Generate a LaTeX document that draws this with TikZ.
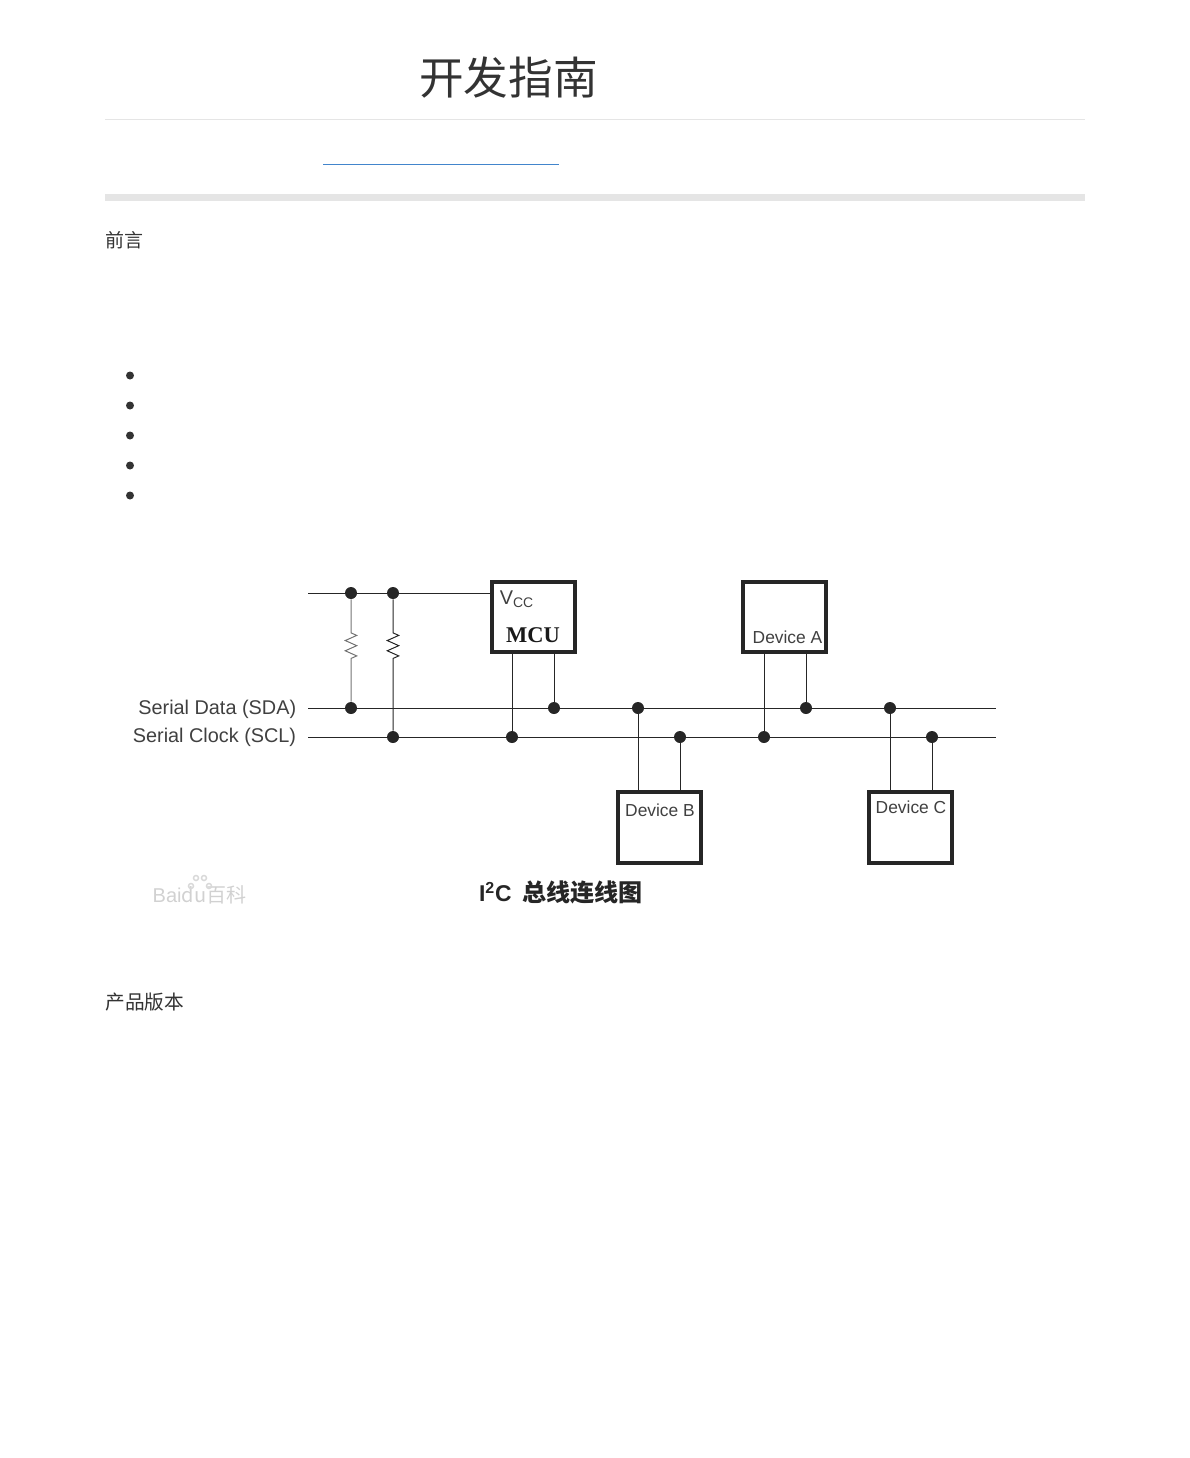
\documentclass[tikz,border=0pt]{standalone}
\usepackage{fontspec}
\setmainfont{Liberation Sans}
\newfontfamily\cjk{Noto Sans CJK SC}
\newfontfamily\serifbold{Liberation Serif}
\definecolor{inkGray}{RGB}{51,51,51}
\definecolor{linkBlue}{RGB}{66,133,204}
\definecolor{ruleGray}{RGB}{229,229,229}
\usetikzlibrary{positioning,calc,decorations.pathmorphing}

\begin{document}
\begin{tikzpicture}[x=0.02cm, y=-0.02cm,
        chip/.style={draw=black!85, line width=0.08cm, minimum width=1.665cm,
          minimum height=1.41cm, inner sep=0pt},
        dot/.style={circle, fill=black!85, inner sep=0pt, minimum size=0.24cm},
        bullet/.style={circle, fill=black!80, inner sep=0pt, minimum size=0.16cm},
        wire/.style={draw=black!85, line width=0.02cm},
        res/.style={wire, decorate, decoration={zigzag, amplitude=0.115cm,
          segment length=0.205cm, pre length=0.67cm, post length=#1}},
        lbl/.style={font=\fontsize{11.3}{14}\selectfont, text=black!75, inner sep=0pt},
        devlbl/.style={font=\fontsize{9.9}{14}\selectfont, text=black!75, inner sep=0pt},
        body/.style={font=\cjk\fontsize{11.2}{14}\selectfont, text=inkGray, inner sep=0pt, anchor=west},
        paw/.style={draw=black!15, line width=0.03cm}
      ]
        \useasboundingbox (0,0) rectangle (1190,1458);

        % Page head
        \node[font=\cjk\fontsize{25.4}{30}\selectfont, text=inkGray, inner sep=0pt] (title) at (508.5,78)
          {开发指南};
        \draw[ruleGray, line width=0.02cm] (105,119.5) -- (1085,119.5);
        \draw[linkBlue, line width=0.02cm] (323,164) -- (559,164);
        \fill[ruleGray] (105,194) rectangle (1085,201);
        \node[body, font=\cjk\fontsize{10.8}{14}\selectfont] (preface) at (105,240) {前言};
        \node[body] (version) at (105,1002) {产品版本};

        \node[bullet] (b1) at (130,375.5) {};
        \node[bullet] (b2) at (130,405.5) {};
        \node[bullet] (b3) at (130,435.5) {};
        \node[bullet] (b4) at (130,465.5) {};
        \node[bullet] (b5) at (130,495.5) {};

        % Devices
        \node[chip] (mcu) at (533.7,617.2) {};
        \node[chip] (deva) at (784.7,617.2) {};
        \node[chip] (devb) at (659.2,827.5) {};
        \node[chip] (devc) at (910.8,827.5) {};

        \node[lbl] (vcc) at (517,599) {V\textsubscript{CC}};
        \node[lbl, font=\serifbold\bfseries\fontsize{12.8}{14}\selectfont, text=black!90] (mcutext) at (533,635) {MCU};
        \node[devlbl] (atext) at (787.5,637) {Device A};
        \node[devlbl] (btext) at (660,810) {Device B};
        \node[devlbl] (ctext) at (911,807) {Device C};

        % Bus labels and ends
        \node[lbl, left] (sdatext) at (296.5,709) {Serial Data (SDA)};
        \node[lbl, left] (scltext) at (296.5,737.5) {Serial Clock (SCL)};
        \coordinate (vccl) at (308,593);
        \coordinate (sdal) at (308,708);
        \coordinate (scll) at (308,737);
        \coordinate (sdar) at (996,708);
        \coordinate (sclr) at (996,737);

        % Junctions
        \node[dot] (v1) at (351,593) {};
        \node[dot] (v2) at (393,593) {};
        \node[dot] (d1) at (351,708) {};
        \node[dot] (c1) at (393,737) {};
        \node[dot] (cm) at (512,737) {};
        \node[dot] (dm) at (554,708) {};
        \node[dot] (db) at (638,708) {};
        \node[dot] (cb) at (680,737) {};
        \node[dot] (ca) at (764,737) {};
        \node[dot] (da) at (806,708) {};
        \node[dot] (dc) at (890,708) {};
        \node[dot] (cc) at (932,737) {};

        % Bus lines
        \draw[wire] (vccl) -- (vccl -| mcu.west);
        \draw[wire] (sdal) -- (sdar);
        \draw[wire] (scll) -- (sclr);

        % Pull-ups
        \draw[res=0.79cm, draw=black!55] (v1) -- (d1);
        \draw[res=1.37cm] (v2) -- (c1);

        % Drops
        \draw[wire] (cm) -- (cm |- mcu.south);
        \draw[wire] (dm) -- (dm |- mcu.south);
        \draw[wire] (ca) -- (ca |- deva.south);
        \draw[wire] (da) -- (da |- deva.south);
        \draw[wire] (db) -- (db |- devb.north);
        \draw[wire] (cb) -- (cb |- devb.north);
        \draw[wire] (dc) -- (dc |- devc.north);
        \draw[wire] (cc) -- (cc |- devc.north);

        % Caption
        \node[font=\cjk\bfseries\fontsize{13.7}{15}\selectfont, text=black!85, inner sep=0pt] (caption) at (561,892)
          {{\rmfamily\bfseries\fontsize{13}{15}\selectfont I\textsuperscript{2}C}\hspace{0.45em}总线连线图};

        % Watermark
        \node[font=\fontsize{11.4}{13}\selectfont, text=black!18, inner sep=0pt] (mark) at (199.5,895)
          {Bai{\cjk du百科}};
        \draw[paw] (191,886) circle (2.5);
        \draw[paw] (196,878) circle (2.5);
        \draw[paw] (204,878) circle (2.5);
        \draw[paw] (209,886) circle (2.5);
      \end{tikzpicture}
\end{document}
